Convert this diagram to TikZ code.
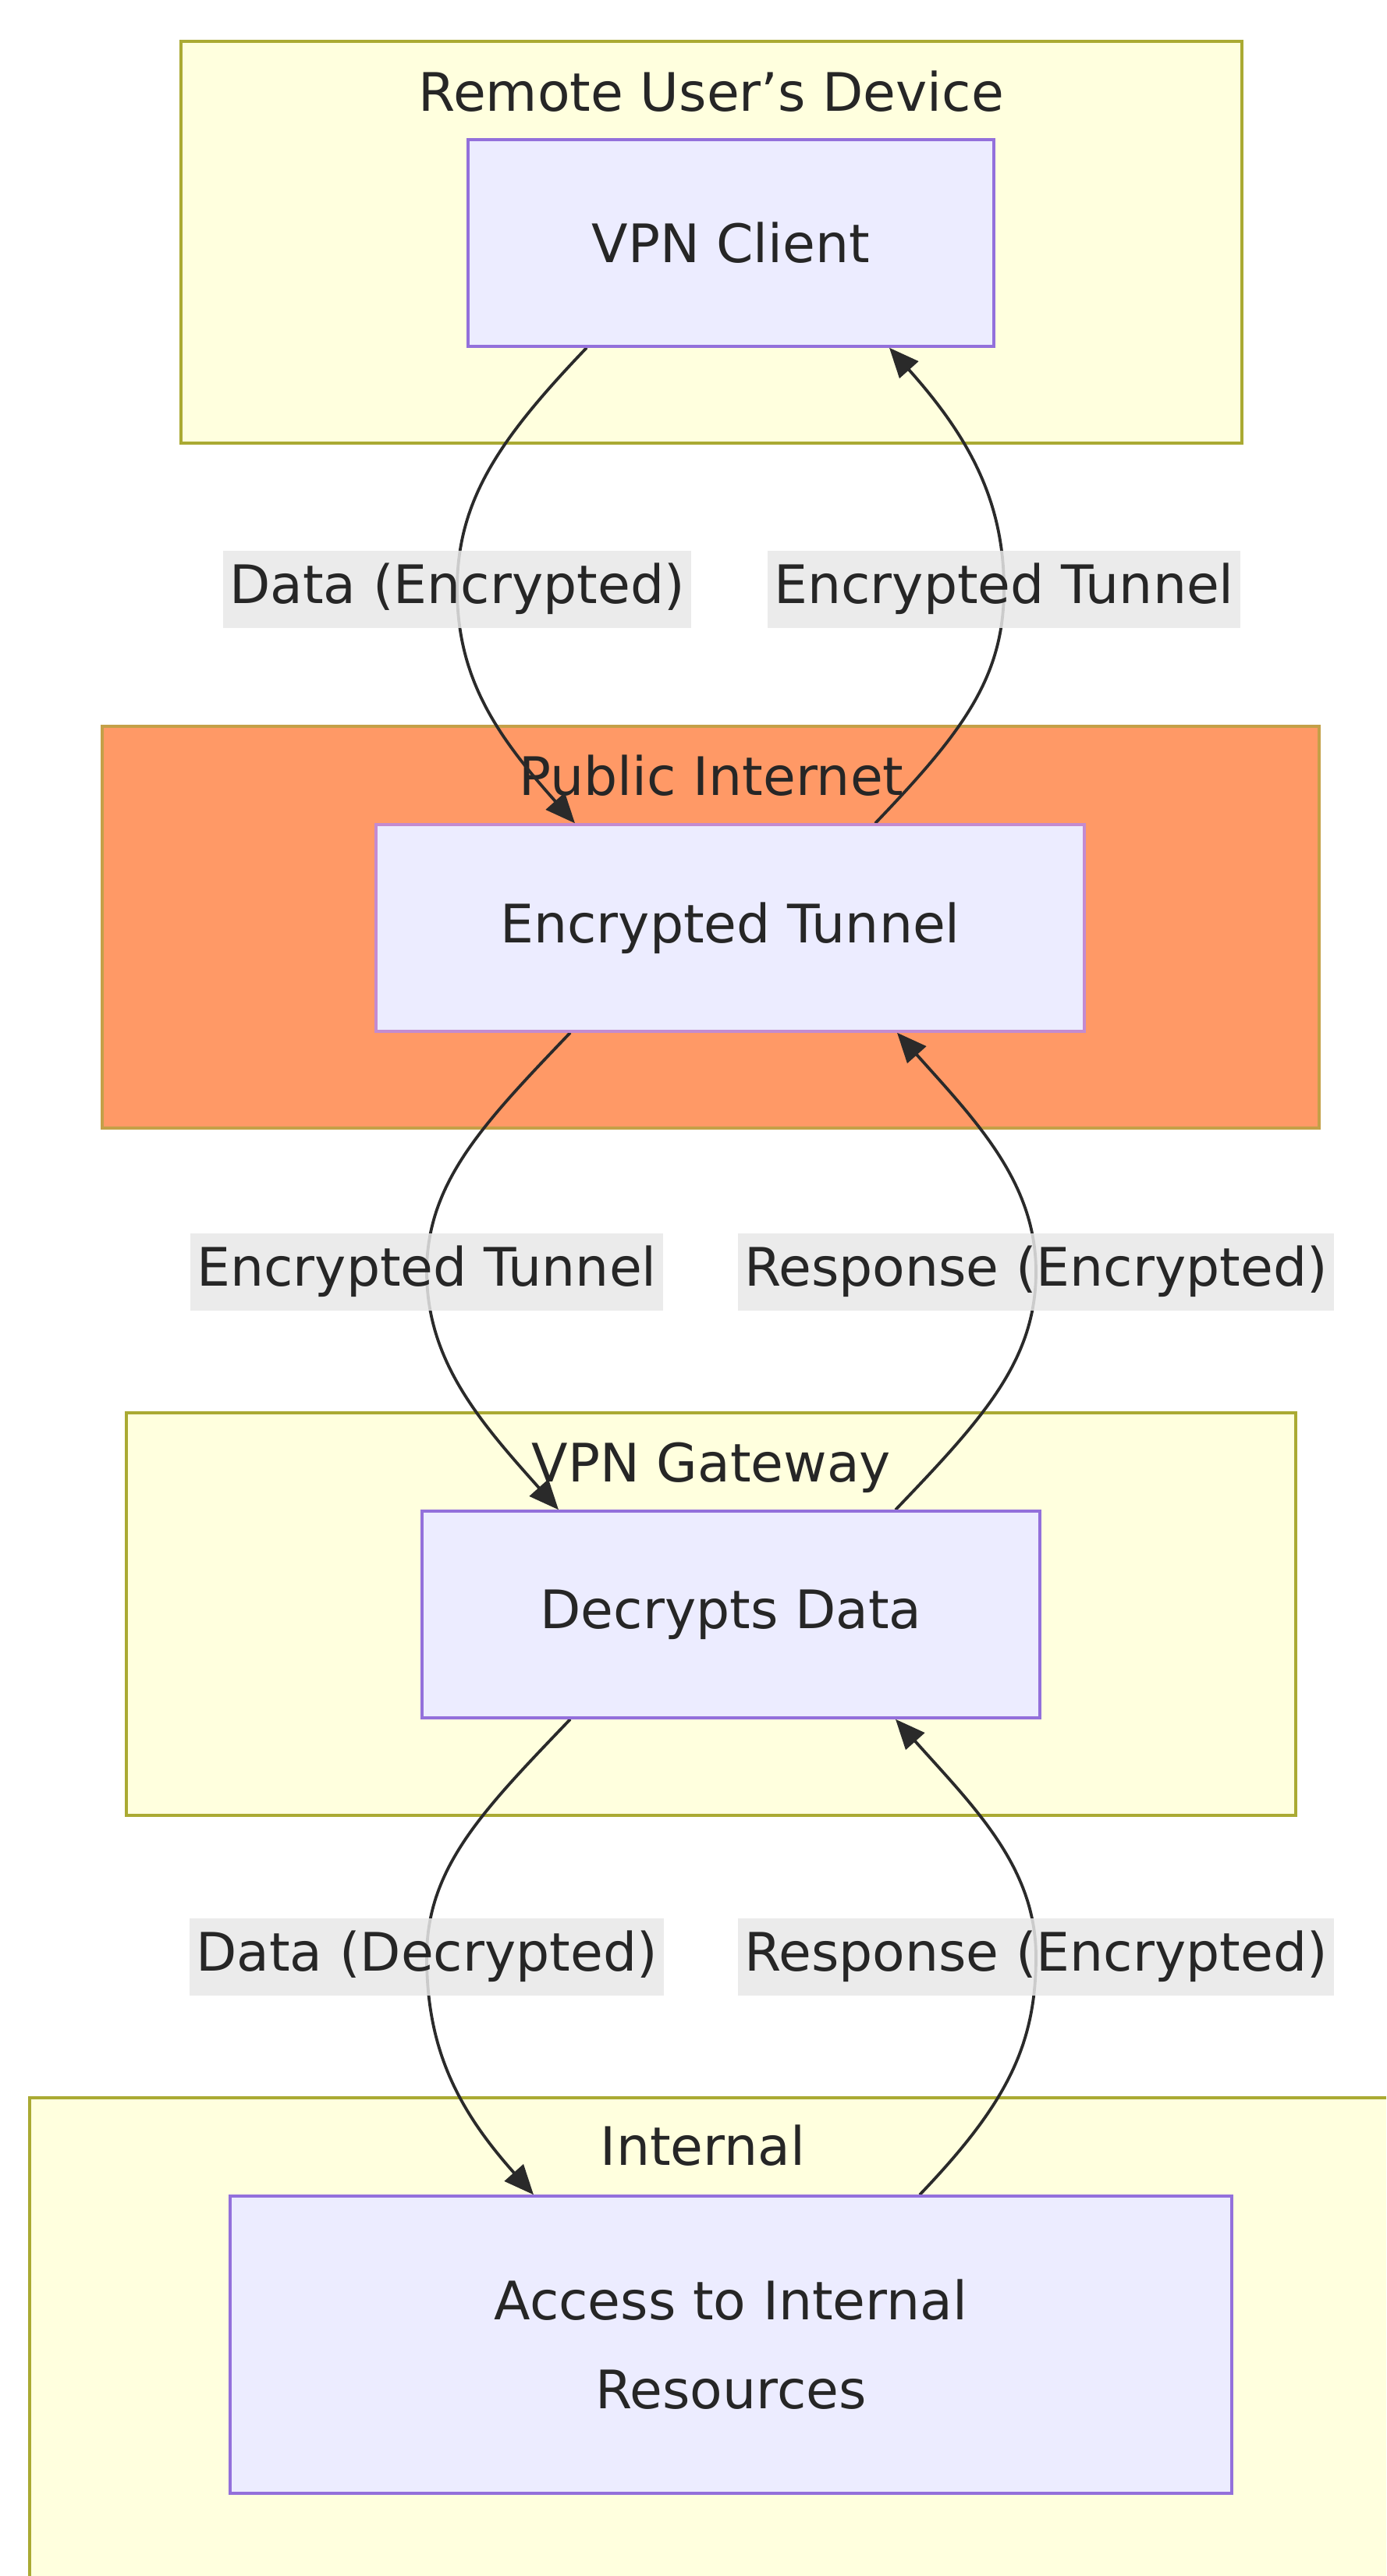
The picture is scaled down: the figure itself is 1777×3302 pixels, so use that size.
\documentclass[tikz,border=0pt]{standalone}
\usepackage{fontspec}
\setmainfont{DejaVu Sans}
\usetikzlibrary{arrows.meta}
\pgfdeclarelayer{bg}
\pgfdeclarelayer{edgelayer}
\pgfsetlayers{bg,edgelayer,main}
\definecolor{clfill}{HTML}{FFFFDE}
\definecolor{clstroke}{HTML}{AAAA33}
\definecolor{orangefill}{HTML}{FF9966}
\definecolor{orangestroke}{HTML}{C4A048}
\definecolor{nodefill}{HTML}{ECECFF}
\definecolor{nodestroke}{HTML}{9370DB}
\definecolor{pinkstroke}{HTML}{C38BD0}
\definecolor{txt}{HTML}{262626}
\definecolor{edgecol}{HTML}{2A2A2A}
\definecolor{labfill}{HTML}{E8E8E8}
\begin{document}
\begin{tikzpicture}[x=1pt,y=-1pt,
  cluster/.style={draw=clstroke, fill=clfill, line width=3.5pt, inner sep=0pt},
  ctitle/.style={anchor=base, text=txt, font=\fontsize{68}{80}\selectfont, inner sep=0pt},
  proc/.style={draw=nodestroke, fill=nodefill, line width=3.5pt, text=txt,
    font=\fontsize{68}{114}\selectfont, align=center, inner sep=0pt},
  elabel/.style={fill=labfill, fill opacity=0.85, text opacity=1, text=txt,
    font=\fontsize{68}{80}\selectfont, inner xsep=8pt, inner ysep=15.5pt,
    text height=52pt, text depth=16pt},
  flow/.style={draw=edgecol, line width=3.8pt, -{Triangle[length=38pt,width=32pt]}}
]
\useasboundingbox (0,0) rectangle (1777,3302);

% clusters
\begin{pgfonlayer}{bg}
\fill[white] (0,0) rectangle (1777,3302);
\node[cluster, minimum width=1360pt, minimum height=515pt] (remote) at (912,310.5) {};
\node[ctitle] (t1) at (912,143) {Remote User’s Device};
\node[cluster, fill=orangefill, draw=orangestroke, minimum width=1560pt, minimum height=515pt] (internet) at (911,1188.5) {};
\node[ctitle] (t2) at (912,1019) {Public Internet};
\node[cluster, minimum width=1499pt, minimum height=516pt] (gateway) at (911.5,2069) {};
\node[ctitle] (t3) at (912,1899) {VPN Gateway};
\fill[clfill] (38,2689) rectangle (1777,3302);
\draw[clstroke, line width=3.5pt] (38,3302) -- (38,2689) -- (1777,2689);
\node[ctitle] (t4) at (901,2775) {Internal};
\end{pgfonlayer}

% process nodes
\node[proc, minimum width=674pt, minimum height=265pt] (client) at (937,311.5) {VPN Client};
\node[proc, draw=pinkstroke, minimum width=908pt, minimum height=265pt] (tunnel) at (936,1189.5) {Encrypted Tunnel};
\node[proc, minimum width=792pt, minimum height=265pt] (decrypt) at (937,2069.5) {Decrypts Data};
\node[proc, minimum width=1284pt, minimum height=381pt] (access) at (937,3005.5) {Access to Internal\\Resources};

% edge labels
\node[elabel] (l1) at (586,755) {Data (Encrypted)};
\node[elabel] (l2) at (1287,755) {Encrypted Tunnel};
\node[elabel] (l3) at (547,1630) {Encrypted Tunnel};
\node[elabel] (l4) at (1328,1630) {Response (Encrypted)};
\node[elabel] (l5) at (547,2508) {Data (Decrypted)};
\node[elabel] (l6) at (1328,2508) {Response (Encrypted)};

% edges
\begin{pgfonlayer}{edgelayer}
\draw[flow] ([xshift=-185pt]client.south) .. controls +(-110,115) and +(0,-115) .. (l1.center)
  .. controls +(0,115) and +(-100,-112) .. ([xshift=-199pt]tunnel.north);
\draw[flow] ([xshift=186pt]tunnel.north) .. controls +(110,-115) and +(0,115) .. (l2.center)
  .. controls +(0,-115) and +(100,112) .. ([xshift=203pt]client.south);
\draw[flow] ([xshift=-205pt]tunnel.south) .. controls +(-110,115) and +(0,-115) .. (l3.center)
  .. controls +(0,115) and +(-100,-112) .. ([xshift=-221pt]decrypt.north);
\draw[flow] ([xshift=211pt]decrypt.north) .. controls +(110,-115) and +(0,115) .. (l4.center)
  .. controls +(0,-115) and +(100,112) .. ([xshift=214pt]tunnel.south);
\draw[flow] ([xshift=-206pt]decrypt.south) .. controls +(-110,115) and +(0,-115) .. (l5.center)
  .. controls +(0,115) and +(-100,-112) .. ([xshift=-253pt]access.north);
\draw[flow] ([xshift=242pt]access.north) .. controls +(110,-115) and +(0,115) .. (l6.center)
  .. controls +(0,-115) and +(100,112) .. ([xshift=211pt]decrypt.south);
\end{pgfonlayer}
\end{tikzpicture}
\end{document}
